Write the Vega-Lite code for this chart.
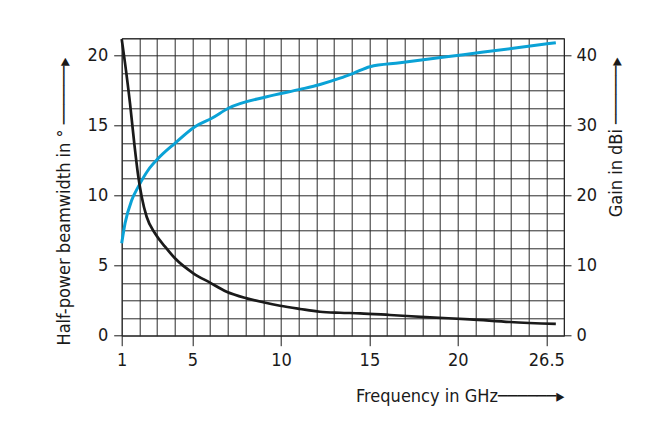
{
  "$schema": "https://vega.github.io/schema/vega-lite/v6.json",
  "autosize": {"type": "none"},
  "width": 442.3,
  "height": 297.4,
  "padding": {"left": 121.7, "top": 38.3, "right": 105, "bottom": 90.3},
  "background": "white",
  "config": {
    "font": "DejaVu Sans Condensed",
    "view": {"stroke": "#222", "strokeWidth": 1},
    "axis": {
      "labelFont": "DejaVu Sans Condensed, Liberation Sans Narrow, sans-serif",
      "titleFont": "DejaVu Sans Condensed, Liberation Sans Narrow, sans-serif",
      "labelFontSize": 18,
      "titleFontSize": 18,
      "titleFontWeight": "normal",
      "labelColor": "#1a1a1a",
      "titleColor": "#1a1a1a",
      "tickColor": "#1a1a1a",
      "gridColor": "#2a2a2a",
      "gridOpacity": 1,
      "gridWidth": 1,
      "domain": false
    }
  },
  "datasets": {
    "beam": [
      {"f": 1.0, "deg": 21.2},
      {"f": 1.19, "deg": 19.46},
      {"f": 1.47, "deg": 16.6},
      {"f": 1.71, "deg": 13.75},
      {"f": 1.94, "deg": 11.36},
      {"f": 2.13, "deg": 9.93},
      {"f": 2.41, "deg": 8.5},
      {"f": 2.88, "deg": 7.32},
      {"f": 3.45, "deg": 6.36},
      {"f": 4.01, "deg": 5.53},
      {"f": 5.05, "deg": 4.46},
      {"f": 5.99, "deg": 3.79},
      {"f": 6.93, "deg": 3.14},
      {"f": 8.07, "deg": 2.67},
      {"f": 9.0, "deg": 2.39},
      {"f": 9.95, "deg": 2.14},
      {"f": 11.08, "deg": 1.91},
      {"f": 12.21, "deg": 1.71},
      {"f": 13.34, "deg": 1.64},
      {"f": 14.47, "deg": 1.6},
      {"f": 16.16, "deg": 1.48},
      {"f": 18.42, "deg": 1.31},
      {"f": 20.89, "deg": 1.17},
      {"f": 23.83, "deg": 0.98},
      {"f": 27.2, "deg": 0.84}
    ],
    "gain": [
      {"f": 1.0, "dB": 13.2},
      {"f": 1.19, "dB": 16.06},
      {"f": 1.57, "dB": 19.39},
      {"f": 1.94, "dB": 21.3},
      {"f": 2.5, "dB": 23.68},
      {"f": 3.07, "dB": 25.35},
      {"f": 4.01, "dB": 27.5},
      {"f": 5.14, "dB": 29.87},
      {"f": 6.09, "dB": 31.07},
      {"f": 7.03, "dB": 32.5},
      {"f": 9.2, "dB": 34.15},
      {"f": 11.08, "dB": 35.2},
      {"f": 12.21, "dB": 35.9},
      {"f": 13.34, "dB": 36.8},
      {"f": 14.09, "dB": 37.5},
      {"f": 15.03, "dB": 38.44},
      {"f": 16.73, "dB": 39.0},
      {"f": 20.4, "dB": 40.16},
      {"f": 24.07, "dB": 41.07},
      {"f": 27.2, "dB": 41.87}
    ]
  },
  "encoding": {
    "x": {
      "field": "f",
      "type": "quantitative",
      "scale": {"domain": [1, 20, 26.5, 27.8], "range": [0, 336.15, 424.6, 442.3], "nice": false, "zero": false},
      "axis": {
        "values": [1,2,3,4,5,6,7,8,9,10,11,12,13,14,15,16,17,18,19,20,21.3,22.6,23.9,25.2,26.5,27.8],
        "grid": true,
        "tickSize": 10,
        "labelPadding": 6,
        "labelFlush": false,
        "labelOverlap": false,
        "labelExpr": "indexof([1,5,10,15,20,26.5], datum.value) >= 0 ? '' + datum.value : ''",
        "tickOpacity": {"condition": {"test": "indexof([1,5,10,15,20,26.5], datum.value) >= 0", "value": 1}, "value": 0},
        "title": "Frequency in GHz──────▸",
        "titleAlign": "right",
        "titleAnchor": null,
        "titleX": 442.3,
        "titleY": 66,
        "titleBaseline": "alphabetic"
      }
    }
  },
  "layer": [
    {
      "data": {"name": "gain"},
      "mark": {"type": "line", "color": "#0aa2d6", "strokeWidth": 3, "interpolate": "monotone"},
      "encoding": {
        "y": {
          "field": "dB",
          "type": "quantitative",
          "scale": {"domain": [0, 42.5], "nice": false, "zero": true},
          "axis": {
            "orient": "right",
            "values": [0,2.5,5,7.5,10,12.5,15,17.5,20,22.5,25,27.5,30,32.5,35,37.5,40,42.5],
            "grid": true,
            "tickSize": 7,
            "labelPadding": 5,
            "labelFlush": false,
            "labelOverlap": false,
            "labelExpr": "datum.value % 10 === 0 ? datum.label : ''",
            "tickOpacity": {"condition": {"test": "datum.value % 10 === 0", "value": 1}, "value": 0},
            "title": "Gain in dBi ──────▸",
            "titleAngle": 270,
            "titleAlign": "left",
            "titleAnchor": null,
            "titleX": 57.7,
            "titleY": 178.4,
            "titleBaseline": "alphabetic"
          }
        }
      }
    },
    {
      "data": {"name": "beam"},
      "mark": {"type": "line", "color": "#1a1a1a", "strokeWidth": 2.7, "interpolate": "monotone"},
      "encoding": {
        "y": {
          "field": "deg",
          "type": "quantitative",
          "scale": {"domain": [0, 21.25], "nice": false, "zero": true},
          "axis": {
            "orient": "left",
            "values": [0, 5, 10, 15, 20],
            "grid": false,
            "tickSize": 8,
            "labelPadding": 6,
            "labelFlush": false,
            "title": "Half-power beamwidth in ° ──────▸",
            "titleAngle": 270,
            "titleAlign": "left",
            "titleAnchor": null,
            "titleX": -52.4,
            "titleY": 306.7,
            "titleBaseline": "alphabetic"
          }
        }
      }
    }
  ],
  "resolve": {"scale": {"y": "independent"}, "axis": {"y": "independent"}}
}
